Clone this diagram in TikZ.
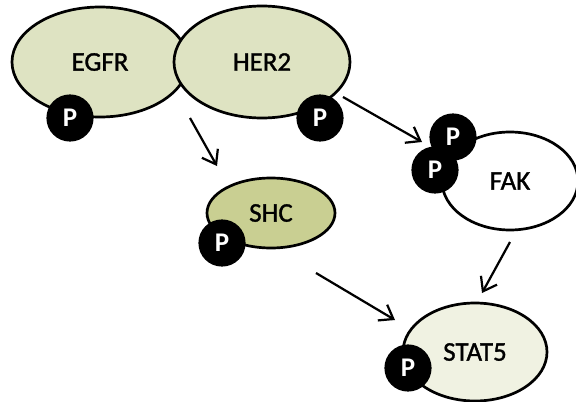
\documentclass[tikz,border=0pt]{standalone}
\usepackage{fontspec}
\setmainfont{Carlito}
\newfontfamily\protfont{Carlito}[FakeBold=1.3]
\usetikzlibrary{shapes.geometric,arrows.meta}
\definecolor{recfill}{HTML}{DEE3C2}
\definecolor{shcfill}{HTML}{C9CF92}
\definecolor{statfill}{HTML}{F0F2E2}
\begin{document}
\begin{tikzpicture}[>={Straight Barb[length=3.8mm,width=5.5mm]},
	prot/.style={draw, ellipse, line width=2.3pt, inner sep=0pt, font=\protfont\fontsize{23}{26}\selectfont},
	phos/.style={circle, fill=black, draw=black, line width=1pt, minimum size=1.38cm, inner sep=0pt, text=white, font=\fontsize{23}{26}\selectfont\bfseries},
	link/.style={->, line width=1.9pt}]
	\useasboundingbox (0,0) rectangle (17.28,-12.06);

	% receptors
	\node[prot, fill=recfill, minimum width=5.28cm, minimum height=3.3cm] (egfr) at (3.0,-1.86) {EGFR};
	\node[prot, fill=recfill, minimum width=5.28cm, minimum height=3.36cm] (her2) at (7.86,-1.86) {HER2};
	\node[phos] (egfrp) at (2.1,-3.54) {P};
	\node[phos] (her2p) at (9.6,-3.54) {P};

	% SHC
	\node[prot, fill=shcfill, minimum width=3.84cm, minimum height=2.1cm] (shc) at (8.13,-6.39) {SHC};
	\node[phos] (shcp) at (6.66,-7.29) {P};

	% FAK
	\node[prot, fill=white, minimum width=4.08cm, minimum height=2.94cm] (fak) at (15.3,-5.43) {FAK};
	\node[phos] (fakpa) at (13.59,-4.11) {P};
	\node[phos] (fakpb) at (13.05,-5.1) {P};

	% STAT5
	\node[prot, fill=statfill, minimum width=4.32cm, minimum height=2.94cm] (stat) at (14.25,-10.56) {STAT5};
	\node[phos] (statp) at (12.24,-11.04) {P};

	% arrows
	\coordinate (a1) at (5.7,-3.54);
	\coordinate (b1) at (6.51,-4.98);
	\coordinate (a2) at (10.29,-2.91);
	\coordinate (b2) at (12.66,-4.26);
	\coordinate (a3) at (9.48,-8.19);
	\coordinate (b3) at (11.85,-9.6);
	\coordinate (a4) at (15.3,-7.26);
	\coordinate (b4) at (14.46,-8.79);
	\draw[link] (a1) -- (b1);
	\draw[link] (a2) -- (b2);
	\draw[link] (a3) -- (b3);
	\draw[link] (a4) -- (b4);
\end{tikzpicture}
\end{document}
